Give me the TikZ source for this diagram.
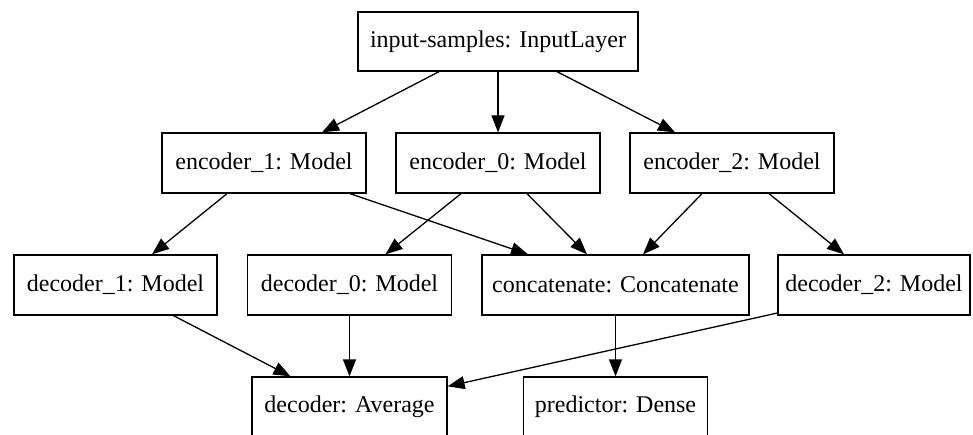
\documentclass[tikz,border=0pt]{standalone}
\usepackage{fontspec}
\setmainfont{Liberation Serif}
\usetikzlibrary{arrows.meta}
\begin{document}
\begin{tikzpicture}[x=1pt,y=-1pt,
  box/.style={draw=black,line width=1.3pt,inner sep=0pt,minimum height=60pt,font=\fontsize{24}{28}\selectfont},
  link/.style={line width=1.3pt,-{Triangle[length=17pt,width=13pt]}}]
\useasboundingbox (0,0) rectangle (973,435);
\clip (0,0) rectangle (973,435);
\node[box,minimum width=280pt,minimum height=59pt] (inp) at (498,41.5) {input-samples: InputLayer};
\node[box,minimum width=204pt] (enc1) at (264,163) {encoder\_1: Model};
\node[box,minimum width=204pt] (enc0) at (498,163) {encoder\_0: Model};
\node[box,minimum width=204pt] (enc2) at (732,163) {encoder\_2: Model};
\node[box,minimum width=203pt] (dec1) at (115.5,285) {decoder\_1: Model};
\node[box,minimum width=204pt] (dec0) at (349.5,285) {decoder\_0: Model};
\node[box,minimum width=267pt] (cat) at (615.5,285) {concatenate: Concatenate};
\node[box,minimum width=192pt] (dec2) at (874,285) {decoder\_2: Model};
\node[box,minimum width=195pt] (dec) at (349.5,407) {decoder: Average};
\node[box,minimum width=184pt] (pred) at (615.5,407) {predictor: Dense};
\draw[link] ([xshift=-59pt]inp.south) -- ([xshift=58pt]enc1.north);
\draw[link] (inp.south) -- (enc0.north);
\draw[link] ([xshift=59pt]inp.south) -- ([xshift=-57pt]enc2.north);
\draw[link] ([xshift=-37pt]enc1.south) -- ([xshift=36.5pt]dec1.north);
\draw[link] ([xshift=86pt]enc1.south) -- ([xshift=-87.5pt]cat.north);
\draw[link] ([xshift=-37pt]enc0.south) -- ([xshift=36pt]dec0.north);
\draw[link] ([xshift=29pt]enc0.south) -- ([xshift=-28.5pt]cat.north);
\draw[link] ([xshift=-30pt]enc2.south) -- ([xshift=27.5pt]cat.north);
\draw[link] ([xshift=37pt]enc2.south) -- ([xshift=-30pt]dec2.north);
\draw[link] ([xshift=58pt]dec1.south) -- ([xshift=-59pt]dec.north);
\draw[link] (dec0.south) -- (dec.north);
\draw[link] ([yshift=-28pt]dec2.west) -- ([yshift=-10pt]dec.north east);
\draw[link] (cat.south) -- (pred.north);
\end{tikzpicture}
\end{document}
